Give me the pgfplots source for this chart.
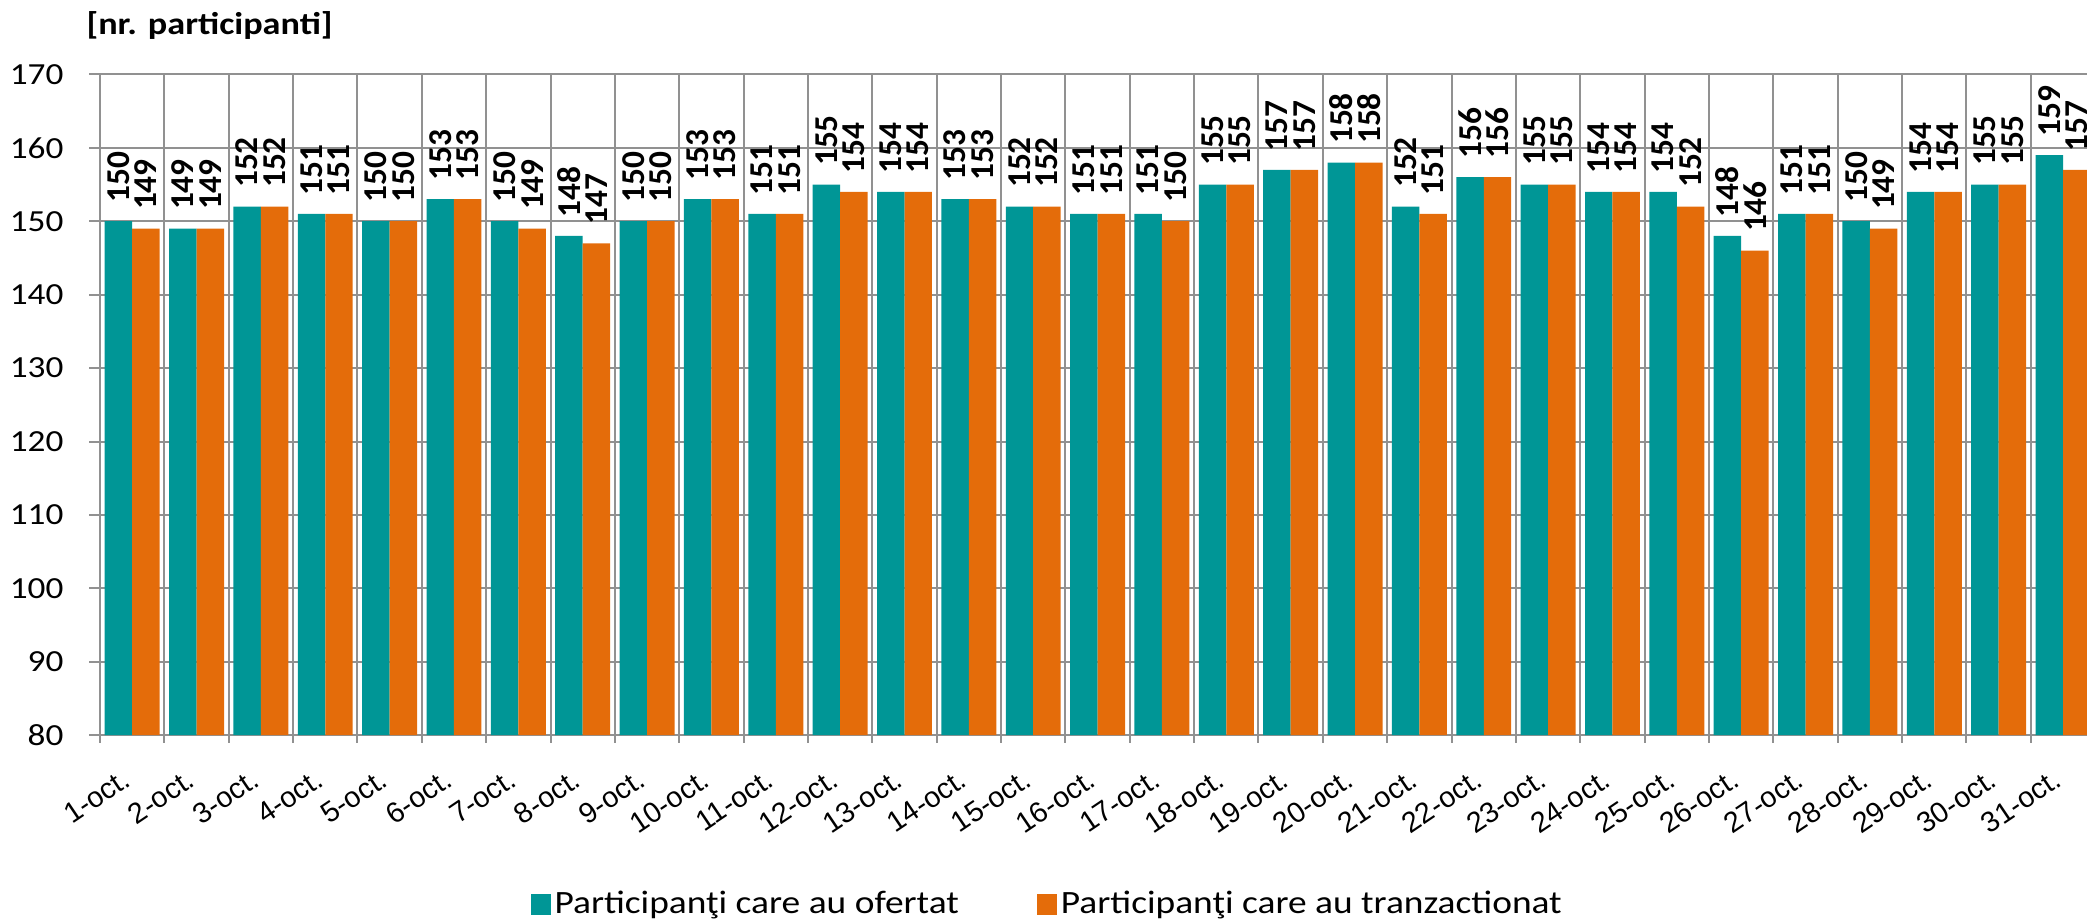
\documentclass[border=0pt]{standalone}
\usepackage{pgfplots}
\pgfplotsset{compat=1.18}
\usepackage{pgfplotstable}
\usepackage{fontspec}
\setmainfont{Carlito}[FakeStretch=1.15]
\newfontfamily\lblfont{Carlito}
\newfontfamily\xfont{Liberation Sans}
\definecolor{cteal}{RGB}{0,150,150}
\definecolor{corange}{RGB}{228,108,10}
\definecolor{cgrid}{RGB}{145,145,145}

\pgfplotstableread{
day of tr
1 150 149
2 149 149
3 152 152
4 151 151
5 150 150
6 153 153
7 150 149
8 148 147
9 150 150
10 153 153
11 151 151
12 155 154
13 154 154
14 153 153
15 152 152
16 151 151
17 151 150
18 155 155
19 157 157
20 158 158
21 152 151
22 156 156
23 155 155
24 154 154
25 154 152
26 148 146
27 151 151
28 150 149
29 154 154
30 155 155
31 159 157
}\data

\begin{document}
\begin{tikzpicture}
\begin{axis}[
  at={(0pt,0pt)}, anchor=south west,
  scale only axis, width=745.1pt, height=247.8pt,
  ybar=0pt, bar width=0.427,
  xmin=0.5, xmax=31.373, ymin=80, ymax=170,
  enlargelimits=false,
  xtick={1,...,31},
  xticklabels={1-oct.,2-oct.,3-oct.,4-oct.,5-oct.,6-oct.,7-oct.,8-oct.,9-oct.,10-oct.,11-oct.,12-oct.,13-oct.,14-oct.,15-oct.,16-oct.,17-oct.,18-oct.,19-oct.,20-oct.,21-oct.,22-oct.,23-oct.,24-oct.,25-oct.,26-oct.,27-oct.,28-oct.,29-oct.,30-oct.,31-oct.},
  minor xtick={0.5,1.5,...,31.5},
  ytick={80,90,...,170},
  ymajorgrids, xminorgrids,
  major grid style={cgrid, line width=0.75pt},
  minor grid style={cgrid, line width=0.75pt},
  axis line style={draw=none},
  tick align=outside,
  xtick pos=lower, ytick pos=left,
  major tick length=4.1pt, minor tick length=2.8pt,
  tick style={cgrid, line width=0.75pt},
  major x tick style={draw=none},
  /pgf/number format/assume math mode=true,
  yticklabel style={font=\fontsize{11.5pt}{13pt}\selectfont, anchor=east, inner sep=0pt, xshift=-9.4pt},
  xticklabel style={font=\xfont\fontsize{10.8pt}{12pt}\selectfont, inner sep=0pt, xshift=-4.2pt, yshift=-8pt, rotate=34, anchor=north east},
  nodes near coords,
  every node near coord/.append style={font=\lblfont\bfseries\fontsize{12.5pt}{14pt}\selectfont, rotate=90, anchor=west, inner xsep=6.8pt, inner ysep=0pt, text=black},
  legend columns=2,
  legend style={at={(0.2164,-0.2563)}, anchor=west, draw=none, fill=none, inner sep=0pt,
    font=\fontsize{12.2pt}{14pt}\selectfont,
    nodes={inner xsep=1.5pt, inner ysep=0pt},
    /tikz/every even column/.append style={column sep=27.75pt}},
  legend image code/.code={\fill[#1] (0pt,-4pt) rectangle (7.5pt,4pt);},
]
\addplot[fill=cteal, draw=none] table[x=day, y=of] {\data};
\addplot[fill=corange, draw=none] table[x=day, y=tr] {\data};
\legend{Participanţi care au ofertat, Participanţi care au tranzactionat}
\end{axis}
\node[anchor=base west, inner sep=0pt, font=\bfseries\fontsize{11.8pt}{14pt}\selectfont] at (-5.25pt,262.6pt) {[nr. participanti]};
\pgfresetboundingbox
\path[use as bounding box] (-37.5pt,-68.6pt) rectangle (745.1pt,275.7pt);
\end{tikzpicture}
\end{document}
